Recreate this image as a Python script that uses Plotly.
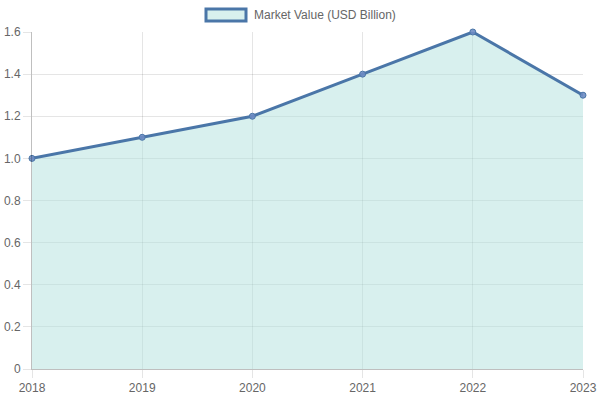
import plotly.graph_objects as go

years = [2018, 2019, 2020, 2021, 2022, 2023]
market_value = [1.0, 1.1, 1.2, 1.4, 1.6, 1.3]
series_name = "Market Value (USD Billion)"
y_tick_vals = [0, 0.2, 0.4, 0.6, 0.8, 1.0, 1.2, 1.4, 1.6]
y_tick_text = ["0", "0.2", "0.4", "0.6", "0.8", "1.0", "1.2", "1.4", "1.6"]
x_tick_text = [str(y) for y in years]

LINE = "#4a76a8"
FILL = "rgba(178,226,222,0.5)"
FONT = "Liberation Sans, Arial, sans-serif"

fig = go.Figure()
fig.add_trace(go.Scatter(
    x=years, y=market_value, name=series_name,
    mode="lines+markers", fill="tozeroy", fillcolor=FILL,
    line=dict(color=LINE, width=3),
    marker=dict(size=6, color="rgba(110,140,195,0.9)", line=dict(color=LINE, width=1)),
    showlegend=False, cliponaxis=False,
))

grid = "rgba(0,0,0,0.1)"
fig.update_layout(
    width=600, height=400,
    margin=dict(l=32, r=17, t=32, b=31, autoexpand=False),
    paper_bgcolor="white", plot_bgcolor="white",
    font=dict(family=FONT, size=12, color="#666"),
    xaxis=dict(range=[years[0], years[-1]], tickvals=years, ticktext=x_tick_text,
               showgrid=True, gridcolor=grid, zeroline=False, automargin=False,
               ticks="outside", ticklen=8, tickcolor=grid,
               showline=True, linecolor="rgba(0,0,0,0.25)", linewidth=1),
    yaxis=dict(range=[0, 1.6], tickvals=y_tick_vals, ticktext=y_tick_text,
               showgrid=True, gridcolor=grid, zeroline=False, automargin=False,
               ticks="outside", ticklen=8, tickcolor=grid,
               showline=True, linecolor="rgba(0,0,0,0.25)", linewidth=1),
    shapes=[dict(type="rect", xref="paper", yref="paper",
                 x0=(206 - 32) / 551, x1=(246 - 32) / 551,
                 y0=(369 - 21) / 337, y1=(369 - 9) / 337,
                 fillcolor="rgba(178,226,222,0.5)", line=dict(color=LINE, width=3))],
    annotations=[dict(text=series_name, xref="paper", yref="paper",
                      x=(252 - 32) / 551, y=(369 - 15) / 337,
                      xanchor="left", yanchor="middle", showarrow=False,
                      font=dict(size=12, color="#666", family=FONT))],
)

fig.write_html(
    "out.html",
    config={"displayModeBar": False},
    post_script="document.body.style.margin='0';document.body.style.overflow='hidden';",
)
